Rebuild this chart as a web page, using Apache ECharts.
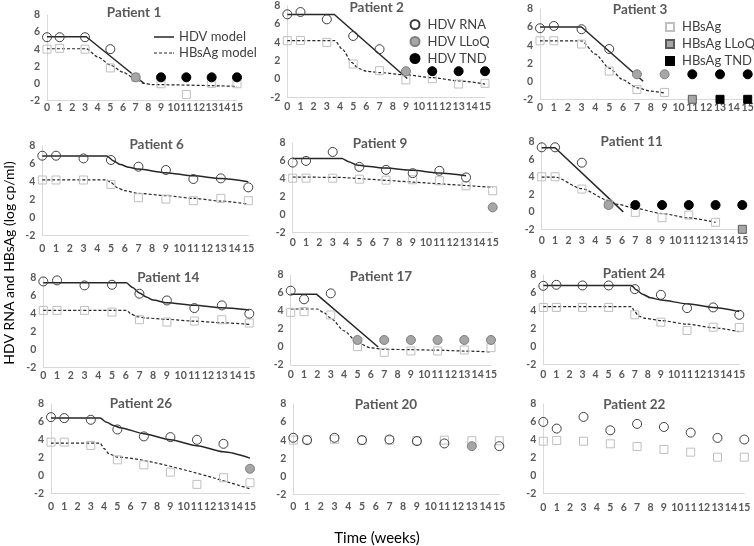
<!DOCTYPE html>
<html><head><meta charset="utf-8">
<script src="https://cdn.jsdelivr.net/npm/echarts@6/dist/echarts.min.js"></script>
<style>html,body{margin:0;padding:0;background:#fff}#c{width:754px;height:546px}</style>
</head><body><div id="c"></div><script>
// ---------------- DATA ----------------
const patientNames = ['Patient 1','Patient 2','Patient 3','Patient 6','Patient 9','Patient 11','Patient 14','Patient 17','Patient 24','Patient 26','Patient 20','Patient 22'];
const xTickMin = 0, xTickMax = 15, xTickStep = 1;
const yTickMin = -2, yTickMax = 8, yTickStep = 2;

// each array: one list per panel (same order as patientNames), points [week, log value]
const hdvRna = [
  [[0,5.4],[1,5.4],[3,5.4],[5,4.0]],
  [[0,7.07],[1,7.32],[3,6.52],[5,4.7],[7,3.25]],
  [[0,5.87],[1,6.12],[3,5.76],[5,3.57]],
  [[0,6.89],[1,6.89],[3,6.59],[5,6.41],[7,5.67],[9,5.3],[11,4.3],[13,4.37],[15,3.37]],
  [[0,5.81],[1,6.0],[3,7.0],[5,5.33],[7,5.0],[9,4.63],[11,4.89],[13,4.15]],
  [[0,7.39],[1,7.39],[3,5.63]],
  [[0,7.58],[1,7.7],[3,7.14],[5,7.21],[7,6.21],[9,5.46],[11,4.61],[13,4.91],[15,3.98]],
  [[0,6.26],[1,5.3],[3,5.96]],
  [[0,6.79],[1,6.9],[3,6.83],[5,6.83],[7,6.42],[9,5.78],[11,4.29],[13,4.37],[15,3.54]],
  [[0,6.53],[1,6.42],[3,6.23],[5,5.15],[7,4.37],[9,4.29],[11,3.99],[13,3.54]],
  [[0,4.26],[1,4.0],[3,4.26],[5,4.0],[7,4.07],[9,3.89],[11,3.63],[15,3.33]],
  [[0,6.0],[1,5.26],[3,6.56],[5,5.07],[7,5.78],[9,5.44],[11,4.81],[13,4.22],[15,4.04]]
];
const hdvLloq = [
  [[7,0.7]], [[9,0.85]], [[7,0.77],[9,0.77]], [], [[15,0.81]], [[5,0.78]], [],
  [[5,0.78],[7,0.78],[9,0.78],[11,0.78],[13,0.78],[15,0.78]], [], [[15,0.75]], [[13,3.33]], []
];
const hdvTnd = [
  [[9,0.7],[11,0.7],[13,0.7],[15,0.7]],
  [[11,0.85],[13,0.85],[15,0.85]],
  [[11,0.77],[13,0.77],[15,0.77]],
  [], [],
  [[7,0.78],[9,0.78],[11,0.78],[13,0.78],[15,0.78]],
  [], [], [], [], [], []
];
const hbsag = [
  [[0,4.0],[1,4.1],[3,4.0],[5,1.8],[7,0.7],[9,-0.05],[11,-1.3],[13,0.0],[15,-0.05]],
  [[0,4.19],[1,4.2],[3,4.0],[5,1.64],[7,0.91],[9,-0.1],[11,0.03],[13,-0.55],[15,-0.47]],
  [[0,4.48],[1,4.48],[3,4.12],[5,1.13],[7,-0.91],[9,-1.24]],
  [[0,4.19],[1,4.19],[3,4.19],[5,3.7],[7,2.22],[9,2.07],[11,1.89],[13,2.15],[15,1.89]],
  [[0,4.07],[1,4.07],[3,4.07],[5,3.96],[7,3.85],[9,3.89],[11,3.78],[13,3.22],[15,2.67]],
  [[0,4.02],[1,4.02],[3,2.61],[5,0.89],[7,-0.06],[9,-0.67],[11,-0.37],[13,-1.2]],
  [[0,4.35],[1,4.35],[3,4.35],[5,4.16],[7,3.31],[9,3.05],[11,3.16],[13,3.31],[15,2.94]],
  [[0,3.85],[1,3.93],[3,3.56],[5,0.04],[7,-0.59],[9,-0.44],[11,-0.44],[13,-0.33],[15,-0.07]],
  [[0,4.37],[1,4.37],[3,4.37],[5,4.37],[7,3.54],[9,2.72],[11,1.79],[13,2.16],[15,2.13]],
  [[0,3.73],[1,3.73],[3,3.36],[5,1.75],[7,1.19],[9,0.37],[11,-1.0],[13,-0.26],[15,-0.82]],
  [[0,4.0],[1,4.05],[3,4.1],[5,4.0],[7,4.0],[9,3.95],[11,4.0],[13,3.93],[15,3.93]],
  [[0,3.85],[1,3.93],[3,3.85],[5,3.56],[7,3.26],[9,2.93],[11,2.63],[13,2.07],[15,2.07]]
];
const hbsagLloq = [[], [], [[11,-2]], [], [], [[15,-2]], [], [], [], [], [], []];
const hbsagTnd  = [[], [], [[13,-2],[15,-2]], [], [], [], [], [], [], [], [], []];

const hdvModel = [
  [[0,5.45],[3.1,5.45],[7.7,-0.05]],
  [[0,7.05],[3.57,7.05],[9.1,0.05]],
  [[0,6.0],[3,6.0],[7.45,0.0]],
  [[0,6.85],[4.7,6.85],[5.2,6.3],[5.7,5.9],[6.3,5.6],[7,5.4],[9,5.0],[11,4.65],[13,4.35],[15,4.0]],
  [[0,6.26],[3.7,6.26],[4.2,5.9],[4.8,5.55],[5.5,5.4],[7,5.2],[9,4.95],[11,4.65],[13,4.35]],
  [[0,7.35],[1,7.35],[6.1,0]],
  [[0,7.43],[6.05,7.43],[6.5,6.9],[7,6.3],[7.5,5.85],[8,5.5],[9,5.2],[11,4.92],[13,4.65],[15,4.4]],
  [[0,5.85],[1.95,5.85],[6.55,0]],
  [[0,6.83],[6.75,6.83],[7.1,6.35],[7.6,5.85],[8.2,5.45],[9,5.2],[11,4.78],[13,4.37],[15,3.9]],
  [[0,6.42],[3.7,6.42],[4.2,5.95],[4.7,5.6],[5.2,5.35],[7,4.68],[9,4.0],[11,3.33],[13,2.64],[15,1.94]],
  [], []
];
const hbsagModel = [
  [[0,4.05],[3.1,4.05],[4,3.1],[5,2.15],[6,1.3],[7,0.5],[7.6,0.0],[8.3,-0.15],[15,-0.35]],
  [[0,4.2],[3.6,4.2],[4.2,3.2],[4.9,1.8],[5.4,1.15],[6,0.85],[7,0.7],[9,0.45],[11,0.15],[13,-0.2],[15,-0.55]],
  [[0,4.48],[3,4.48],[4,3.0],[5,1.45],[6,0.15],[7,-0.72],[8,-1.1],[9,-1.3]],
  [[0,4.2],[4.7,4.2],[5.0,3.9],[5.5,3.3],[6.0,3.0],[7,2.7],[9,2.45],[11,2.15],[13,1.85],[15,1.5]],
  [[0,4.2],[3.7,4.15],[15,3.05]],
  [[0,3.98],[1,3.98],[3,2.65],[5,1.3],[5.7,0.85],[7,0.4],[9,-0.2],[11,-0.7],[13,-1.2]],
  [[0,4.35],[6.05,4.35],[6.4,3.95],[6.8,3.65],[7.5,3.5],[9,3.35],[11,3.15],[13,2.97],[15,2.8]],
  [[0,4.22],[2,4.22],[2.5,3.8],[3,3.2],[4,1.8],[5,0.5],[6,-0.1],[7,-0.25],[9,-0.3],[11,-0.35],[13,-0.45],[15,-0.55]],
  [[0,4.45],[6.75,4.45],[7.0,3.9],[7.3,3.4],[7.8,3.15],[9,2.9],[11,2.5],[13,2.1],[15,1.65]],
  [[0,3.62],[3.7,3.62],[4.0,3.0],[4.4,2.4],[5,2.05],[15,-1.5]],
  [], []
];

// ---------------- LAYOUT (pixels) ----------------
const layouts = [
  {x0:47,    x15:237,   y8:15,    yM2:100.4, lm:2,   tx:134,   ty:13},
  {x0:287.3, x15:485,   y8:5.8,   yM2:97.3,  lm:4,   tx:376.7, ty:7.5},
  {x0:540,   x15:747.7, y8:9,     yM2:99.3,  lm:3,   tx:640,   ty:9.5},
  {x0:42.3,  x15:248.3, y8:145.7, yM2:235.7, lm:7,   tx:156.7, ty:145},
  {x0:292.7, x15:492.7, y8:143,   yM2:232.5, lm:4.5, tx:380,   ty:144},
  {x0:541.7, x15:742.3, y8:142,   yM2:229.3, lm:5.5, tx:631.7, ty:141.7},
  {x0:43.3,  x15:249.3, y8:277.7, yM2:367.3, lm:2.5, tx:168.3, ty:277.3},
  {x0:290.7, x15:491,   y8:275,   yM2:365,   lm:4.5, tx:381,   ty:276.7},
  {x0:543.3, x15:739.3, y8:275,   yM2:364.3, lm:5,   tx:634,   ty:274},
  {x0:51,    x15:250,   y8:404,   yM2:493.3, lm:7.5, tx:141,   ty:403.3},
  {x0:293.3, x15:499.3, y8:404,   yM2:494.3, lm:6.5, tx:386,   ty:405},
  {x0:543.3, x15:744.3, y8:404,   yM2:493.7, lm:8,   tx:634.3, ty:405}
];

const FONT = 'Lato';
const tickColor = '#595959';
const axisColor = '#d9d9d9';
const grids = [], xAxes = [], yAxes = [], series = [], graphics = [];

function addScatter(name, data, i, symbol, size, fill, stroke, z) {
  if (!data.length) return;
  series.push({
    name, type:'scatter', xAxisIndex:i, yAxisIndex:i, data, symbol, symbolSize:size,
    clip:false, z, silent:true,
    itemStyle:{color:fill, borderColor:stroke, borderWidth:1, opacity:1}
  });
}
function addLine(name, data, i, dashed) {
  if (!data.length) return;
  series.push({
    name, type:'line', xAxisIndex:i, yAxisIndex:i, data, symbol:'none', showSymbol:false,
    smooth: data.length > 3 ? 0.25 : false, smoothMonotone:'x', clip:false, z:2, silent:true,
    color:'#262626',
    lineStyle:{color:'#262626', width: dashed ? 1.2 : 1.5, type: dashed ? [3,2] : 'solid'}
  });
}

const tickLabel = (margin) => ({margin, color:tickColor, fontSize:10.5, fontWeight:'bold', fontFamily:FONT,
  hideOverlap:false, showMinLabel:true, showMaxLabel:true});

layouts.forEach((L, i) => {
  grids.push({left:L.x0, top:L.y8, width:L.x15 - L.x0, height:L.yM2 - L.y8, containLabel:false, outerBoundsMode:'none'});
  xAxes.push({
    gridIndex:i, type:'value', min:xTickMin, max:xTickMax, interval:xTickStep,
    axisLine:{show:true, onZero:false, lineStyle:{color:axisColor, width:1}},
    axisTick:{show:false}, splitLine:{show:false},
    axisLabel:tickLabel(L.lm)
  });
  yAxes.push({
    gridIndex:i, type:'value', min:yTickMin, max:yTickMax, interval:yTickStep,
    axisLine:{show:true, onZero:false, lineStyle:{color:axisColor, width:1}},
    axisTick:{show:false}, splitLine:{show:false},
    axisLabel:tickLabel(7)
  });
  graphics.push({type:'text', x:L.tx, y:L.ty, silent:true,
    style:{text:patientNames[i], align:'center', verticalAlign:'middle',
      fontSize:13.5, fontWeight:'bold', fontFamily:FONT, fill:'#595959'}});

  addLine('HDV model', hdvModel[i], i, false);
  addLine('HBsAg model', hbsagModel[i], i, true);
  addScatter('HBsAg', hbsag[i], i, 'rect', 8, 'rgba(255,255,255,0)', '#bfbfbf', 3);
  addScatter('HDV RNA', hdvRna[i], i, 'circle', 9, 'rgba(255,255,255,0)', '#404040', 4);
  addScatter('HBsAg LLoQ', hbsagLloq[i], i, 'rect', 8, '#a6a6a6', '#595959', 5);
  addScatter('HBsAg TND', hbsagTnd[i], i, 'rect', 8, '#000000', '#000000', 5);
  addScatter('HDV LLoQ', hdvLloq[i], i, 'circle', 9, '#a6a6a6', '#7f7f7f', 5);
  addScatter('HDV TND', hdvTnd[i], i, 'circle', 9, '#000000', '#000000', 5);
});

graphics.push({type:'text', x:9, y:263, rotation:Math.PI/2, silent:true,
  style:{text:'HDV RNA and HBsAg (log cp/ml)', align:'center', verticalAlign:'middle',
    fontSize:14, fontFamily:FONT, fill:'#000'}});
graphics.push({type:'text', x:377, y:538, silent:true,
  style:{text:'Time (weeks)', align:'center', verticalAlign:'middle',
    fontSize:15, fontFamily:FONT, fill:'#000'}});

const legendText = {color:'#404040', fontSize:13, fontFamily:FONT, lineHeight:14};
const legendTextPad = Object.assign({}, legendText, {padding:[0,0,0,3]});
const solidIcon = 'path://M0,0H20V1.5H0Z';
const dashIcon = 'path://M0,0H3V1.2H0ZM5,0H8V1.2H5ZM10,0H13V1.2H10ZM15,0H18V1.2H15ZM19,0H20V1.2H19Z';
const chart = echarts.init(document.getElementById('c'), null, {renderer:'canvas'});
chart.setOption({
  animation:false,
  backgroundColor:'#ffffff',
  grid:grids, xAxis:xAxes, yAxis:yAxes, series,
  graphic:graphics,
  legend:[
    {data:[{name:'HDV model', icon:solidIcon, itemStyle:{color:'#262626'}},
           {name:'HBsAg model', icon:dashIcon, itemStyle:{color:'#262626'}}],
     orient:'vertical', left:154, top:30, itemWidth:20, itemHeight:1.5, itemGap:2,
     selectedMode:false, textStyle:legendText, padding:0},
    {data:['HDV RNA','HDV LLoQ','HDV TND'], orient:'vertical', left:409.5, top:17.5,
     itemWidth:9, itemHeight:9, itemGap:3, selectedMode:false, textStyle:legendTextPad, padding:0},
    {data:['HBsAg','HBsAg LLoQ','HBsAg TND'], orient:'vertical', left:665, top:20,
     itemWidth:8, itemHeight:8, itemGap:3, selectedMode:false, textStyle:legendTextPad, padding:0}
  ]
});
</script></body></html>
